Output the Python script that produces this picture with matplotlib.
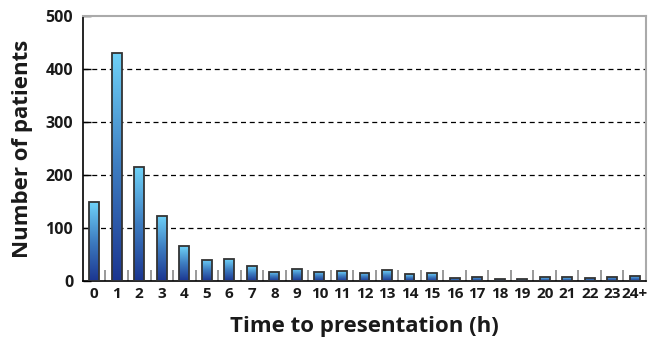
import numpy as np
import matplotlib.pyplot as plt
from matplotlib.colors import LinearSegmentedColormap

hours = [str(h) for h in range(24)] + ["24+"]
patients = [149, 430, 215, 123, 66, 40, 41, 28, 17, 23, 17, 18, 16, 20, 13, 15,
            6, 8, 4, 3, 7, 7, 6, 8, 10]

plt.rcParams['font.family'] = ['Open Sans', 'DejaVu Sans']

fig = plt.figure(figsize=(6.67, 3.38), dpi=100)
ax = fig.add_axes([0.1244, 0.1686, 0.8441, 0.7841])

x = np.arange(len(hours))
bars = ax.bar(x, patients, width=0.44, color='none', edgecolor='#333333',
              linewidth=1.3, zorder=4)

# vertical gradient inside each bar, light at top, dark at bottom
cmap = LinearSegmentedColormap.from_list('bl', ['#1b3590', '#3d7cc0', '#6fd2f8'])
grad = np.linspace(0, 1, 256).reshape(-1, 1)
for b in bars:
    x0, w, h = b.get_x(), b.get_width(), b.get_height()
    im = ax.imshow(grad, cmap=cmap, origin='lower', aspect='auto',
                   extent=(x0, x0 + w, 0, h), zorder=3)
    im.set_clip_path(b)

ax.set_xlim(-0.5, len(hours) - 0.5)
ax.set_ylim(0, 500)

ax.set_yticks([0, 100, 200, 300, 400, 500])
for yv in [100, 200, 300, 400]:
    ax.axhline(yv, color='black', linestyle=(0, (4, 3)), linewidth=0.9, zorder=1)

ax.set_xticks(x)
ax.set_xticklabels(hours)
ax.set_xticks(np.arange(0.5, len(hours) - 1, 1), minor=True)
ax.tick_params(axis='x', which='major', length=0, pad=4, labelsize=11)
ax.tick_params(axis='x', which='minor', length=8, direction='in', color='#888888', width=1.2)
ax.tick_params(axis='y', which='major', length=6, direction='in', width=1, pad=7, labelsize=11.5)
for lab in ax.get_xticklabels() + ax.get_yticklabels():
    lab.set_fontweight('bold')
    lab.set_color('#1a1a1a')

ax.spines['left'].set_color('black')
ax.spines['bottom'].set_color('black')
ax.spines['left'].set_linewidth(1.2)
ax.spines['bottom'].set_linewidth(1.2)
ax.spines['top'].set_color('#aaaaaa')
ax.spines['right'].set_color('#aaaaaa')
ax.spines['top'].set_linewidth(1.5)
ax.spines['right'].set_linewidth(1.5)

ax.set_xlabel('Time to presentation (h)', fontsize=16, fontweight='bold',
              color='#1a1a1a', labelpad=11)
ax.set_ylabel('Number of patients', fontsize=16, fontweight='bold',
              color='#1a1a1a', labelpad=9)

fig.savefig('out.png', dpi=100)
